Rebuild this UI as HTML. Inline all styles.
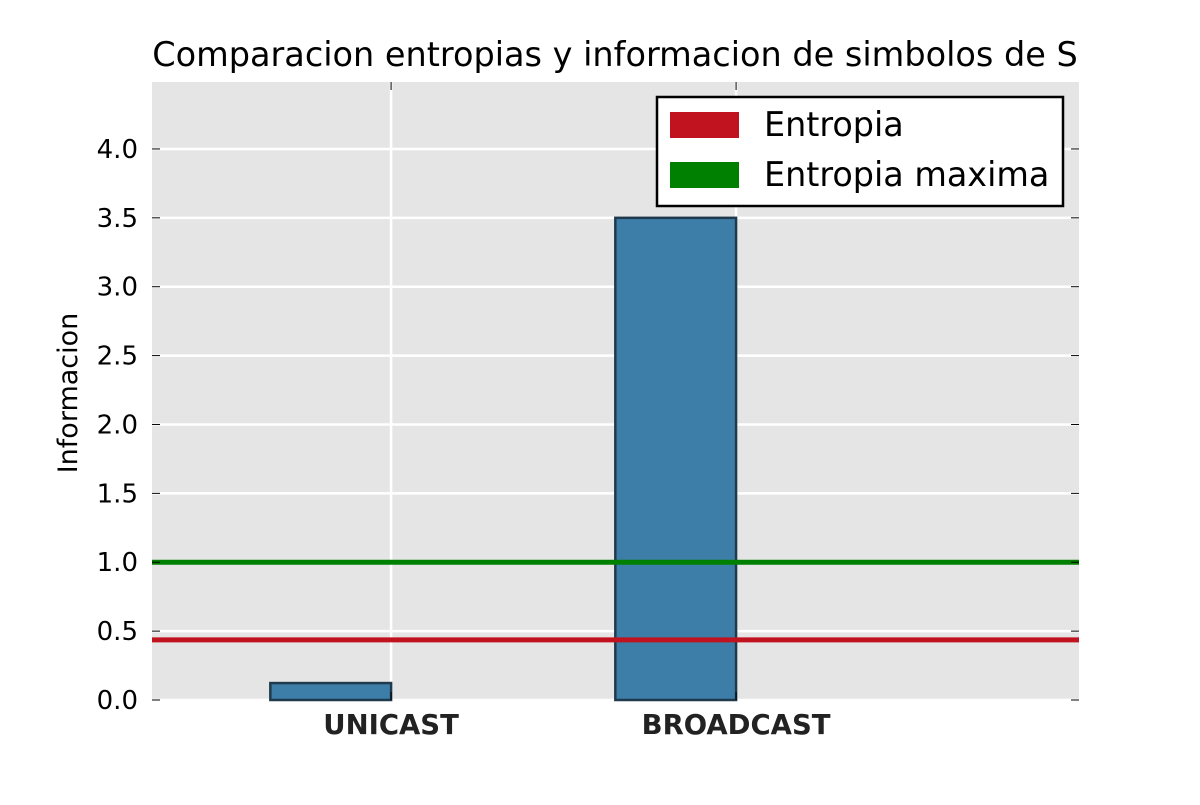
<!DOCTYPE html>
<html><head><meta charset="utf-8"><style>
body{margin:0;background:#fff;}
svg text{font-family:"DejaVu Sans","Liberation Sans",sans-serif;}
</style></head><body>
<svg id="chart" width="1200" height="800"></svg>
<script>
const categories=["UNICAST","BROADCAST"];
const values=[0.123,3.5];
const entropia=[0.436];
const entropiaMax=[1.0];
const yTicks=[0,0.5,1.0,1.5,2.0,2.5,3.0,3.5,4.0];
const yTickLabels=["0.0","0.5","1.0","1.5","2.0","2.5","3.0","3.5","4.0"];

const L=152,R=1079,T=82,B=700;
const xMin=-0.693,xMax=1.994,yMin=0,yMax=4.486;
const xs=v=>L+(v-xMin)/(xMax-xMin)*(R-L);
const ys=v=>B-(v-yMin)/(yMax-yMin)*(B-T);
const svg=document.getElementById('chart');
const NS="http://www.w3.org/2000/svg";
function mk(tag,attrs,parent){const e=document.createElementNS(NS,tag);for(const k in attrs)e.setAttribute(k,attrs[k]);(parent||svg).appendChild(e);return e;}

const bg=mk('rect',{x:L,y:T,width:R-L,height:B-T,fill:'#e5e5e5'});



yTicks.forEach((t,i)=>{
  const g=mk('line',{x1:L,x2:R,y1:ys(t),y2:ys(t),stroke:'#fff','stroke-width':2.5});
  
  
});
categories.forEach((c,i)=>{
  const g=mk('line',{x1:xs(i),x2:xs(i),y1:T,y2:B,stroke:'#fff','stroke-width':2.5});
  
  
});

const bw=0.35;
values.forEach((v,i)=>{
  const x0=xs(i-bw),x1=xs(i);
  const r=mk('rect',{x:x0,y:ys(v),width:x1-x0,height:ys(0)-ys(v),fill:'#3d7ea9',stroke:'#1f3a4d','stroke-width':2.5});
  
  
});

const lr=mk('line',{x1:L,x2:R,y1:ys(entropia[0]),y2:ys(entropia[0]),stroke:'#c1121f','stroke-width':5});


const lg=mk('line',{x1:L,x2:R,y1:ys(entropiaMax[0]),y2:ys(entropiaMax[0]),stroke:'#008000','stroke-width':5});



yTicks.forEach((t,i)=>{
  mk('line',{x1:L,x2:L+8,y1:ys(t),y2:ys(t),stroke:'#000','stroke-width':1});
  mk('line',{x1:R-8,x2:R,y1:ys(t),y2:ys(t),stroke:'#000','stroke-width':1});
  const tx=mk('text',{x:L-14,y:ys(t)+9,'text-anchor':'end','font-size':26,fill:'#000'});
  tx.textContent=yTickLabels[i];
  
  
});
categories.forEach((c,i)=>{
  mk('line',{x1:xs(i),x2:xs(i),y1:T,y2:T+8,stroke:'#000','stroke-width':1});
  mk('line',{x1:xs(i),x2:xs(i),y1:B-8,y2:B,stroke:'#000','stroke-width':1});
  const tx=mk('text',{x:xs(i),y:734,'text-anchor':'middle','font-size':27.5,'font-weight':'bold',fill:'#222'});
  tx.textContent=c;
  
  
});

const title=mk('text',{x:615,y:66,'text-anchor':'middle','font-size':33.5,fill:'#000'});
title.textContent="Comparacion entropias y informacion de simbolos de S";



const yl=mk('text',{x:0,y:0,'text-anchor':'middle','font-size':27,fill:'#000',transform:'translate(77,393) rotate(-90)'});
yl.textContent="Informacion";



const lgBox=mk('rect',{x:657,y:97,width:406,height:109,fill:'#fff',stroke:'#000','stroke-width':2.5});


[["Entropia","#c1121f",125],["Entropia maxima","#008000",175]].forEach(([n,c,y])=>{
  const s=mk('rect',{x:670,y:y-13,width:69,height:26,fill:c});
  
  
  const t=mk('text',{x:764,y:y+11,'font-size':33.4,fill:'#000'});
  t.textContent=n;
  
  
});
</script>
</body></html>
